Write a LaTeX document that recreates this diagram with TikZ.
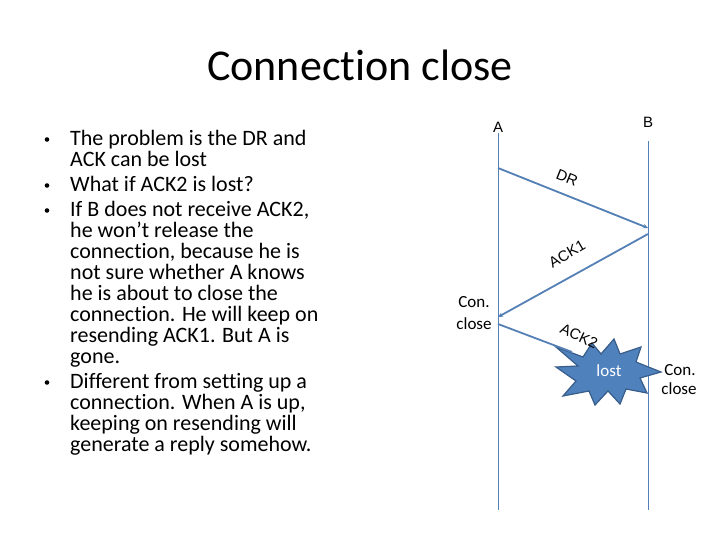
\documentclass[tikz,border=0pt]{standalone}
\usepackage{fontspec}
\setmainfont{Carlito}[Ligatures=NoCommon]
\newfontfamily\lblfont{Liberation Sans}
\usetikzlibrary{arrows.meta}
\definecolor{lineblue}{HTML}{5580B5}
\definecolor{starfill}{HTML}{4F81BD}
\definecolor{starline}{HTML}{385D8A}
\tikzset{
  bl/.style={anchor=base west, inner sep=0pt, font=\fontsize{22}{26}\selectfont},
  dot/.style={circle, fill=black, inner sep=0pt, minimum size=4.6pt},
  life/.style={draw=lineblue, line width=1pt},
  msg/.style={draw=lineblue, line width=1.8pt, -{Stealth[length=5pt,width=4.5pt]}},
  lbl/.style={inner sep=0pt, font=\fontsize{17}{20}\selectfont},
  mlbl/.style={inner sep=0pt, font=\lblfont\fontsize{15}{18}\selectfont}
}
\begin{document}
\begin{tikzpicture}[x=1pt,y=-1pt]
\path[use as bounding box, fill=white] (0,0) rectangle (720,540);
% title
\node[anchor=base, inner sep=0pt, font=\fontsize{44}{52}\selectfont] (title) at (360,81) {Connection close};
% bullets
\node[bl] (l1) at (70,145.7) {The problem is the DR and};
\node[bl] (l2) at (70,166.7) {ACK can be lost};
\node[bl] (l3) at (70,191.7) {What if ACK2 is lost?};
\node[bl] (l4) at (70,216.7) {If B does not receive ACK2,};
\node[bl] (l5) at (70,237.7) {he won’t release the};
\node[bl] (l6) at (70,258.7) {connection, because he is};
\node[bl] (l7) at (70,279.7) {not sure whether A knows};
\node[bl] (l8) at (70,300.7) {he is about to close the};
\node[bl] (l9) at (70,321.7) {connection. He will keep on};
\node[bl] (l10) at (70,342.7) {resending ACK1. But A is};
\node[bl] (l11) at (70,363.7) {gone.};
\node[bl] (l12) at (70,388.7) {Different from setting up a};
\node[bl] (l13) at (70,409.7) {connection. When A is up,};
\node[bl] (l14) at (70,430.7) {keeping on resending will};
\node[bl] (l15) at (70,451.7) {generate a reply somehow.};
\node[dot] (b1) at (47,139.5) {};
\node[dot] (b2) at (47,185.5) {};
\node[dot] (b3) at (47,210.5) {};
\node[dot] (b4) at (47,382.5) {};
% lifelines
\coordinate (Atop) at (498,133);
\coordinate (Abot) at (498,510);
\coordinate (Btop) at (648,141);
\coordinate (Bbot) at (648,510);
\draw[life] (Atop) -- (Abot);
\draw[life] (Btop) -- (Bbot);
\node[mlbl] (A) at (498,127) {A};
\node[mlbl] (B) at (648,122) {B};
% messages
\coordinate (dr0) at (498,168);
\coordinate (dr1) at (648,228);
\coordinate (ak0) at (648,234);
\coordinate (ak1) at (498,317);
\coordinate (a20) at (498,324);
\coordinate (a21) at (572,352);
\draw[msg] (dr0) -- (dr1);
\draw[msg] (ak0) -- (ak1);
% star
\filldraw[fill=starfill, draw=starline, line width=1.2pt]
  (556,347) -- (583,357) -- (592,343) -- (601,354) -- (614,339) -- (620,354)
  -- (641,347) -- (636,362) -- (661,372) -- (640,378) -- (647,393) -- (626,389)
  -- (620,404) -- (608,391) -- (595,405) -- (589,391) -- (563,396) -- (576,381)
  -- (556,367) -- (578,366) -- cycle;
\draw[draw=lineblue, line width=1.8pt] (a20) -- (a21);
\node[inner sep=0pt, text=white, font=\fontsize{17}{20}\selectfont] (lost) at (609,371) {lost};
% message labels
\node[mlbl, rotate=-22] (drl) at (567,178) {DR};
\node[mlbl, rotate=30] (ack1l) at (567,254) {ACK1};
\node[mlbl, rotate=-25] (ack2l) at (579,336) {ACK2};
% con close labels
\node[lbl] (c1) at (474,302) {Con.};
\node[lbl] (c2) at (474,324) {close};
\node[lbl] (c3) at (680,370) {Con.};
\node[lbl] (c4) at (679,389) {close};
\end{tikzpicture}
\end{document}
